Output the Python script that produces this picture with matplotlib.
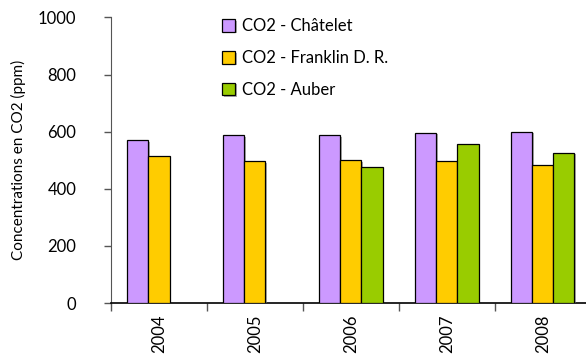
import numpy as np
import matplotlib.pyplot as plt
import matplotlib.patheffects as pe
from matplotlib.ticker import FixedLocator, NullFormatter

years = ['2004', '2005', '2006', '2007', '2008']
chatelet = [571, 587, 587, 597, 600]
franklin = [516, 496, 501, 496, 484]
auber = [np.nan, np.nan, 475, 556, 526]

series_names = ['CO2 - Châtelet', 'CO2 - Franklin D. R.', 'CO2 - Auber']
series_colors = ['#cc99ff', '#ffcc00', '#99cc00']

plt.rcParams['font.family'] = ['Lato', 'DejaVu Sans']

fig = plt.figure(figsize=(5.86, 3.56), dpi=100)
ax = fig.add_axes([111 / 586, 1 - 303 / 356, 475 / 586, (303 - 17.5) / 356])

x = np.arange(len(years))
w = 0.22
shadow = [pe.SimplePatchShadow(offset=(1.2, -1.2), shadow_rgbFace='#777777', alpha=0.6), pe.Normal()]
for i, (vals, name, col) in enumerate(zip([chatelet, franklin, auber], series_names, series_colors)):
    ax.bar(x + (i - 1) * w, vals, width=w, color=col, edgecolor='black', linewidth=0.9,
           label=name, path_effects=shadow, zorder=3)

ax.set_ylim(0, 1000)
ax.set_xlim(-0.5, 4.45)
ax.set_yticks([0, 200, 400, 600, 800, 1000])
ax.tick_params(axis='y', direction='out', length=5, width=1, colors='#555555', labelcolor='black', labelsize=12, pad=20)

ax.set_xticks(x)
ax.set_xticklabels(years, rotation=90, fontsize=12)
ax.tick_params(axis='x', which='major', length=0, pad=8)
ax.xaxis.set_minor_locator(FixedLocator(np.arange(-0.5, 5, 1)))
ax.xaxis.set_minor_formatter(NullFormatter())
ax.tick_params(axis='x', which='minor', direction='out', length=6, width=1, color='#555555')

ax.spines['top'].set_visible(False)
ax.spines['right'].set_visible(False)
ax.spines['left'].set_color('#555555')
ax.spines['bottom'].set_color('black')
ax.spines['bottom'].set_linewidth(1.2)

ax.set_ylabel('Concentrations en CO2 (ppm)', fontsize=11)
ax.yaxis.set_label_coords(-(111 - 26) / 475, 0.5)

leg = ax.legend(loc='upper left', bbox_to_anchor=((207 - 111) / 475, 1.05), frameon=False,
                fontsize=12, handlelength=0.8, handleheight=0.8, handletextpad=0.4, labelspacing=0.95)

fig.savefig('out.png', dpi=100)
